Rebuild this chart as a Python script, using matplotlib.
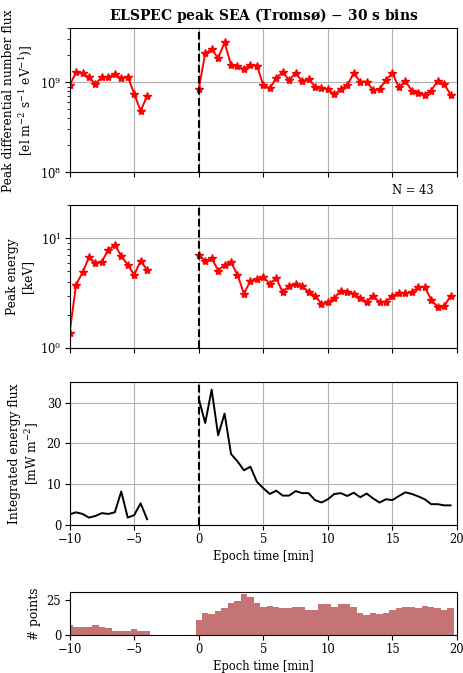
import numpy as np
import matplotlib
matplotlib.use("Agg")
import matplotlib.pyplot as plt

plt.rcParams["font.family"] = ["DejaVu Serif"]
plt.rcParams["mathtext.fontset"] = "dejavuserif"

# epoch times (30 s bins)
t_pre = np.arange(-10, -3.9, 0.5)
t_post = np.arange(0, 19.6, 0.5)

# peak differential number flux [1e9 el m-2 s-1 eV-1]
flux_pre = [0.93, 1.29, 1.26, 1.14, 0.96, 1.14, 1.14, 1.24, 1.11, 1.16, 0.75, 0.48, 0.71]
flux_post = [0.84, 2.1, 2.34, 1.86, 2.78, 1.56, 1.53, 1.41, 1.57, 1.54,
             0.93, 0.86, 1.12, 1.29, 1.06, 1.27, 1.03, 1.09, 0.90, 0.86,
             0.84, 0.74, 0.84, 0.93, 1.26, 1.02, 1.02, 0.82, 0.84, 1.07,
             1.26, 0.88, 1.03, 0.81, 0.77, 0.73, 0.81, 1.04, 0.96, 0.73]

# peak energy [keV]
energy_pre = [1.37, 3.77, 4.88, 6.72, 5.93, 6.14, 7.83, 8.69, 6.90, 5.73, 4.64, 6.22, 5.15]
energy_post = [7.05, 6.22, 6.58, 5.08, 5.73, 6.05, 4.64, 3.12, 4.09, 4.24,
               4.42, 3.85, 4.33, 3.21, 3.69, 3.85, 3.64, 3.27, 2.99, 2.53,
               2.60, 2.85, 3.34, 3.27, 3.12, 2.85, 2.65, 2.99, 2.60, 2.65,
               2.99, 3.16, 3.16, 3.21, 3.59, 3.59, 2.75, 2.36, 2.39, 2.99]

# integrated energy flux [mW m-2]
eflux_pre = [2.6, 3.1, 2.7, 1.8, 2.2, 2.9, 2.7, 3.1, 8.2, 1.8, 2.4, 5.3, 1.4]
eflux_post = [31.0, 25.0, 33.2, 22.0, 27.3, 17.4, 15.6, 13.4, 14.3, 10.6,
              9.0, 7.6, 8.4, 7.2, 7.2, 8.3, 7.8, 7.8, 6.1, 5.5,
              6.3, 7.6, 7.8, 7.1, 7.9, 6.8, 7.7, 6.5, 5.5, 6.3,
              6.1, 7.1, 8.0, 7.6, 7.0, 6.3, 5.1, 5.1, 4.8, 4.8]

# number of points per bin
count_pre = [7, 6, 6, 6, 7, 6, 5, 3, 3, 3, 4, 3, 3]
count_post = [11, 16, 15, 17, 19, 23, 24, 29, 27, 23,
              20, 21, 20, 19, 19, 20, 20, 18, 18, 22,
              22, 20, 22, 22, 20, 16, 14, 16, 15, 16,
              18, 19, 20, 20, 19, 21, 20, 19, 18, 19]

n_events = 43

fs = 8.3      # ticks / xlabels
fs_y = 8.8    # ylabels
fig = plt.figure(figsize=(4.64, 6.73), dpi=100)
left, width = 0.150, 0.835
ax1 = fig.add_axes([left, 0.744, width, 0.214])
ax2 = fig.add_axes([left, 0.483, width, 0.212])
ax3 = fig.add_axes([left, 0.220, width, 0.212])
ax4 = fig.add_axes([left, 0.0565, width, 0.0635])

xt = np.arange(-10, 21, 5)
line_kw = dict(color="red", marker="*", markersize=6, lw=1.4)

# panel 1 - number flux
ax1.plot(t_pre, np.array(flux_pre) * 1e9, **line_kw)
ax1.plot(t_post, np.array(flux_post) * 1e9, **line_kw)
ax1.set_yscale("log")
ax1.set_ylim(1e8, 4e9)
ax1.set_ylabel("Peak differential number flux\n[el m$^{-2}$ s$^{-1}$ eV$^{-1}$)]", fontsize=fs_y)
ax1.set_title("ELSPEC peak SEA (Tromsø) $-$ 30 s bins", fontsize=10, fontweight="bold", pad=6)

# panel 2 - peak energy
ax2.plot(t_pre, energy_pre, **line_kw)
ax2.plot(t_post, energy_post, **line_kw)
ax2.set_yscale("log")
ax2.set_ylim(1, 20)
ax2.set_ylabel("Peak energy\n[keV]", fontsize=fs_y)
ax2.text(0.94, 1.105, "N = %d" % n_events, transform=ax2.transAxes,
         ha="right", va="center", fontsize=fs)

# panel 3 - energy flux
ax3.plot(t_pre, eflux_pre, color="black", lw=1.4)
ax3.plot(t_post, eflux_post, color="black", lw=1.4)
ax3.set_ylim(0, 35)
ax3.set_yticks([0, 10, 20, 30])
ax3.set_ylabel("Integrated energy flux\n[mW m$^{-2}$]", fontsize=fs_y)
ax3.set_xlabel("Epoch time [min]", fontsize=fs, labelpad=3)

for ax in (ax1, ax2, ax3):
    ax.axvline(0, color="black", ls="--", lw=1.5)
    ax.grid(True, which="major", color="#b0b0b0", lw=0.8)
    ax.set_axisbelow(True)

for ax in (ax1, ax2):
    ax.tick_params(axis="x", labelbottom=False)

# panel 4 - histogram of points
ax4.bar(t_pre, count_pre, width=0.5, color="brown", alpha=0.65)
ax4.bar(t_post, count_post, width=0.5, color="brown", alpha=0.65)
ax4.set_ylim(0, 30.5)
ax4.set_yticks([0, 25])
ax4.set_ylabel("# points", fontsize=fs_y)
ax4.set_xlabel("Epoch time [min]", fontsize=fs, labelpad=3)

for ax in (ax1, ax2, ax3, ax4):
    ax.set_xlim(-10, 20)
    ax.set_xticks(xt)
    ax.tick_params(labelsize=fs, pad=2.5)

fig.savefig("out.png", dpi=100)
